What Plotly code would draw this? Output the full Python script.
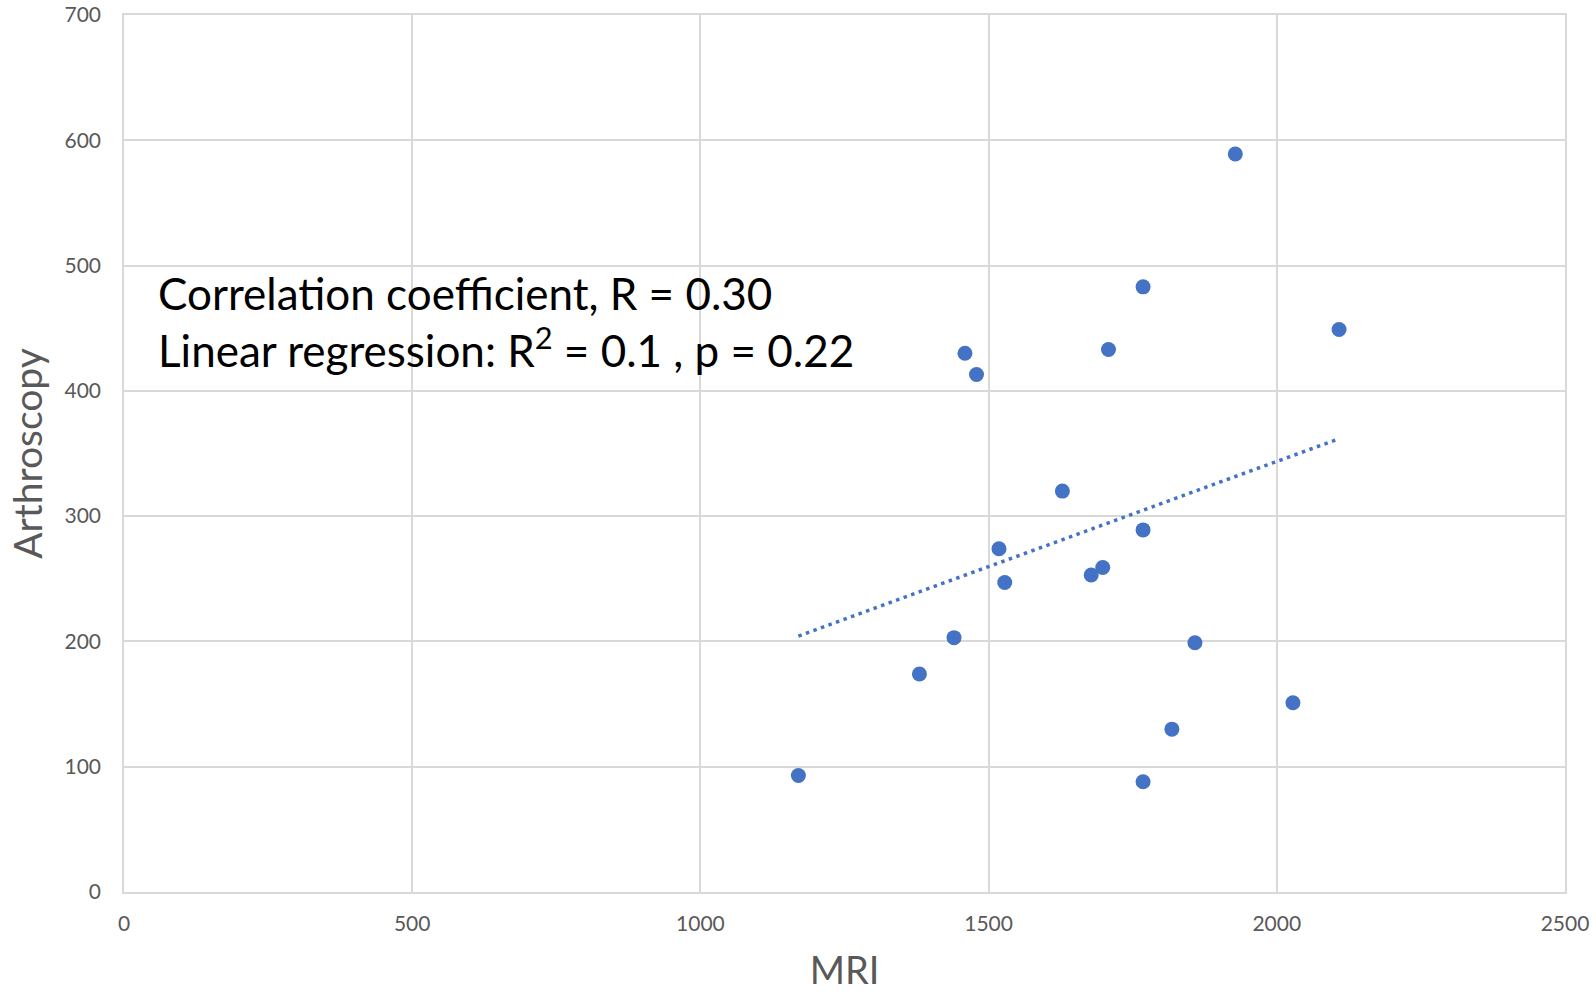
import numpy as np
import plotly.graph_objects as go

# MRI vs arthroscopy measurements
mri = [1170, 1380, 1440, 1518, 1528, 1628, 1678, 1698, 1768, 1858,
       1818, 2028, 1768, 1928, 1768, 2108, 1708, 1459, 1479]
arthroscopy = [93, 174, 203, 274, 247, 320, 253, 259, 289, 199,
               130, 151, 88, 589, 483, 449, 433, 430, 413]

x_ticks = [0, 500, 1000, 1500, 2000, 2500]
y_ticks = [0, 100, 200, 300, 400, 500, 600, 700]

annotation_lines = [
    "Correlation coefficient, R = 0.30",
    "Linear regression: R<sup>2</sup> = 0.1 , p = 0.22",
]

BLUE = "#4472C4"
GRID = "#d9d9d9"
TICK = "#595959"
FONT = "Lato"

# Least-squares trend line across the observed MRI range
slope, intercept = np.polyfit(mri, arthroscopy, 1)
trend_x = [min(mri), max(mri)]
trend_y = [slope * v + intercept for v in trend_x]

fig = go.Figure()
fig.add_trace(go.Scatter(
    x=trend_x, y=trend_y, mode="lines",
    line=dict(color=BLUE, width=3.5, dash="3.5px,4.5px"),
    hoverinfo="skip", showlegend=False,
))
fig.add_trace(go.Scatter(
    x=mri, y=arthroscopy, mode="markers",
    marker=dict(color=BLUE, size=15, line=dict(width=0)),
    showlegend=False,
))

axis_common = dict(
    showgrid=True, gridcolor=GRID, gridwidth=1.5,
    showline=True, linecolor=GRID, linewidth=1.5, mirror=True,
    zeroline=False, ticks="", automargin=False,
    tickfont=dict(family=FONT, size=21, color=TICK),
)

fig.update_xaxes(
    range=[0, 2500], tickvals=x_ticks, ticklabelstandoff=12,
    title=dict(text="MRI", font=dict(family=FONT, size=38, color=TICK), standoff=27),
    **axis_common,
)
fig.update_yaxes(
    range=[0, 700], tickvals=y_ticks, ticklabelstandoff=17,
    title=dict(text="Arthroscopy", font=dict(family=FONT, size=39, color=TICK), standoff=10),
    **axis_common,
)

fig.add_annotation(
    x=0.022, y=0.651, xref="paper", yref="paper",
    xanchor="left", yanchor="middle", align="left", showarrow=False,
    text="<br>".join(annotation_lines),
    font=dict(family=FONT, size=44, color="black"),
)

fig.update_layout(
    width=1596, height=992,
    margin=dict(l=124, r=31, t=15, b=100),
    plot_bgcolor="white", paper_bgcolor="white",
)

fig.write_html("out.html")
